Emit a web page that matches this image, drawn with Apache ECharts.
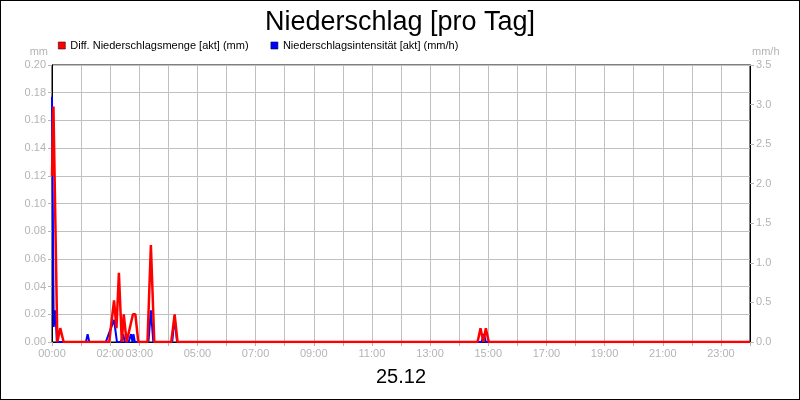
<!DOCTYPE html>
<html>
<head>
<meta charset="utf-8">
<script src="https://cdn.jsdelivr.net/npm/echarts@6/dist/echarts.min.js"></script>
<style>
html,body{margin:0;padding:0;background:#fff;}
#c{width:798px;height:398px;border:1px solid #000;}
</style>
</head>
<body>
<div id="c"></div>
<script>
// time in minutes since 00:00, value
const mengeData = [
  [0,0.12],[3,0.17],[11,0],[17,0.01],[21,0.01],[24,0],
  [118,0],[128,0.03],[133,0.01],[138,0.05],[144,0],[148,0.02],[154,0],[157,0],[167,0.02],[172,0.02],[178,0],
  [197,0],[204,0.07],[211,0],
  [246,0],[253,0.02],[259,0],
  [878,0],[884,0.01],[890,0],[895,0.01],[901,0],
  [1440,0]
];
const intensitaetData = [
  [0,3.1],[3.5,0.19],[7,0.4],[10,0],
  [70,0],[73.5,0.1],[77,0],
  [111,0],[117,0.1],[128,0.28],[134,0],[142,0],[147,0.1],[150,0],[158,0],[163,0.1],[166,0],[168,0.1],[171,0],
  [199,0],[204,0.4],[209,0],
  [248,0],[253,0.3],[258,0],
  [886,0],[891,0.1],[895,0],
  [1440,0]
];
const shownHourLabels = [0,2,3,5,7,9,11,13,15,17,19,21,23];
const seriesNames = ['Diff. Niederschlagsmenge [akt] (mm)','Niederschlagsintensität [akt] (mm/h)'];
const titleText = 'Niederschlag [pro Tag]';
const dateText = '25.12';

const gray = '#b4b4b4';
const chart = echarts.init(document.getElementById('c'));
chart.setOption({
  animation:false,
  title:{text:titleText,left:'center',top:3,textStyle:{fontFamily:'Liberation Sans',fontSize:27,fontWeight:'normal',color:'#000'}},
  legend:{
    left:57, top:39, padding:0, itemWidth:7, itemHeight:7, itemGap:22, icon:'rect',
    textStyle:{fontFamily:'Liberation Sans',fontSize:11,color:'#000'},
    data:[
      {name:seriesNames[0],itemStyle:{color:'#ff0000',borderColor:'#400',borderWidth:0.6}},
      {name:seriesNames[1],itemStyle:{color:'#0000ff',borderColor:'#004',borderWidth:0.6}}
    ]
  },
  grid:{left:51,right:49,top:64,bottom:57,show:true,borderColor:'#000',borderWidth:1,containLabel:false},
  xAxis:{
    type:'value',min:0,max:1440,interval:60,
    name:dateText,nameLocation:'middle',nameGap:25,
    nameTextStyle:{fontFamily:'Liberation Sans',fontSize:20,color:'#000'},
    axisLine:{show:true,lineStyle:{color:'#000',width:1}},
    axisTick:{show:true,length:4,lineStyle:{color:gray}},
    axisLabel:{margin:6,color:gray,fontFamily:'Liberation Sans',fontSize:11,
      formatter:function(v){const h=Math.round(v/60);return shownHourLabels.indexOf(h)>=0?((h<10?'0':'')+h+':00'):'';}},
    splitLine:{show:true,lineStyle:{color:'#c0c0c0',width:1}}
  },
  yAxis:[
    {type:'value',min:0,max:0.2,interval:0.02,position:'left',
     name:'mm',nameLocation:'end',nameGap:8,
     nameTextStyle:{fontFamily:'Liberation Sans',fontSize:11,color:gray,align:'right',padding:[0,4,0,0]},
     axisLine:{show:true,lineStyle:{color:'#000'}},
     axisTick:{show:true,length:4,lineStyle:{color:gray}},
     axisLabel:{margin:6,color:gray,fontFamily:'Liberation Sans',fontSize:11,formatter:function(v){return v.toFixed(2);}},
     splitLine:{show:true,lineStyle:{color:'#c0c0c0',width:1}}
    },
    {type:'value',min:0,max:3.5,interval:0.5,position:'right',
     name:'mm/h',nameLocation:'end',nameGap:8,
     nameTextStyle:{fontFamily:'Liberation Sans',fontSize:11,color:gray,align:'left',padding:[0,0,0,2]},
     axisLine:{show:true,lineStyle:{color:'#000'}},
     axisTick:{show:true,length:4,lineStyle:{color:gray}},
     axisLabel:{margin:6,color:gray,fontFamily:'Liberation Sans',fontSize:11,formatter:function(v){return v.toFixed(1);}},
     splitLine:{show:false}
    }
  ],
  series:[
    {name:seriesNames[0],type:'line',yAxisIndex:0,data:mengeData,showSymbol:false,symbol:'none',z:4,
     lineStyle:{color:'#ff0000',width:2.5},itemStyle:{color:'#ff0000'}},
    {name:seriesNames[1],type:'line',yAxisIndex:1,data:intensitaetData,showSymbol:false,symbol:'none',z:3,
     lineStyle:{color:'#0000ff',width:2},itemStyle:{color:'#0000ff'}}
  ]
});
</script>
</body>
</html>
